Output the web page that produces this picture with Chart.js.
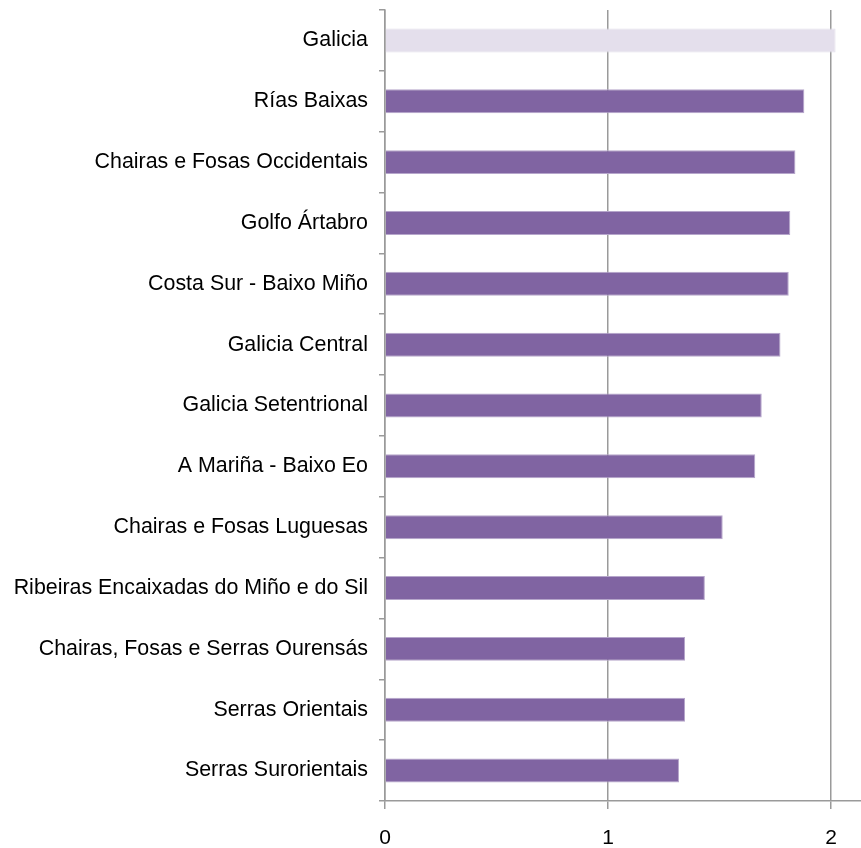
<!DOCTYPE html>
<html>
<head>
<meta charset="utf-8">
<script src="https://cdn.jsdelivr.net/npm/chart.js@4.4.0/dist/chart.umd.min.js"></script>
<style>
  html, body { margin: 0; padding: 0; background: #fff; }
  #wrap { width: 861px; height: 848px; position: relative; }
</style>
</head>
<body>
<div id="wrap"><canvas id="mycanvas"></canvas></div>
<script>
var comarcas = [
	'Galicia',
	'Rías Baixas',
	'Chairas e Fosas Occidentais',
	'Golfo Ártabro',
	'Costa Sur - Baixo Miño',
	'Galicia Central',
	'Galicia Setentrional',
	'A Mariña - Baixo Eo',
	'Chairas e Fosas Luguesas',
	'Ribeiras Encaixadas do Miño e do Sil',
	'Chairas, Fosas e Serras Ourensás',
	'Serras Orientais',
	'Serras Surorientais'
];
var valores = [2.02, 1.88, 1.84, 1.817, 1.81, 1.773, 1.689, 1.66, 1.514, 1.434, 1.345, 1.345, 1.318];
var xTicks = [0, 1, 2];
var xMax = 2.134;

var fillColors = [];
var edgeColors = [];
for (var i in comarcas) {
	if (comarcas[i] === 'Galicia') {
		fillColors.push('#E4DFEC');
		edgeColors.push('#E4DFEC');
	} else {
		fillColors.push('#8064A2');
		edgeColors.push('#B6A6CB');
	}
}

var chartdata = {
	labels: comarcas,
	datasets: [{
		data: valores,
		backgroundColor: fillColors,
		borderColor: edgeColors,
		borderWidth: 1,
		barPercentage: 0.394,
		categoryPercentage: 1.0
	}]
};

var ctx = document.getElementById('mycanvas');
var barGraph = new Chart(ctx, {
	type: 'bar',
	data: chartdata,
	options: {
		indexAxis: 'y',
		responsive: true,
		maintainAspectRatio: false,
		animation: false,
		layout: { padding: { top: 10, left: 0, right: 0, bottom: 0 } },
		plugins: {
			legend: { display: false },
			tooltip: { enabled: false }
		},
		scales: {
			x: {
				min: 0,
				max: xMax,
				afterBuildTicks: function(scale) {
					scale.ticks = xTicks.map(function(v) { return { value: v }; });
				},
				afterFit: function(scale) {
					scale.height = 47;
					scale.paddingLeft = 0;
					scale.paddingRight = 0;
				},
				grid: {
					color: '#9a9a9a',
					lineWidth: 1.5,
					tickLength: 8,
					drawTicks: true
				},
				border: { color: '#9a9a9a', width: 1.5 },
				ticks: {
					color: '#000',
					padding: 17,
					maxRotation: 0,
					font: { family: 'Liberation Sans, Arial, sans-serif', size: 21 }
				}
			},
			y: {
				afterFit: function(scale) {
					scale.width = 385;
					scale.paddingTop = 0;
					scale.paddingBottom = 0;
				},
				grid: {
					offset: true,
					drawOnChartArea: false,
					color: '#9a9a9a',
					lineWidth: 1.5,
					tickLength: 6
				},
				border: { color: '#9a9a9a', width: 1.5 },
				ticks: {
					color: '#000',
					padding: 11,
					autoSkip: false,
					font: { family: 'Liberation Sans, Arial, sans-serif', size: 21.4 }
				}
			}
		}
	}
});
</script>
</body>
</html>
